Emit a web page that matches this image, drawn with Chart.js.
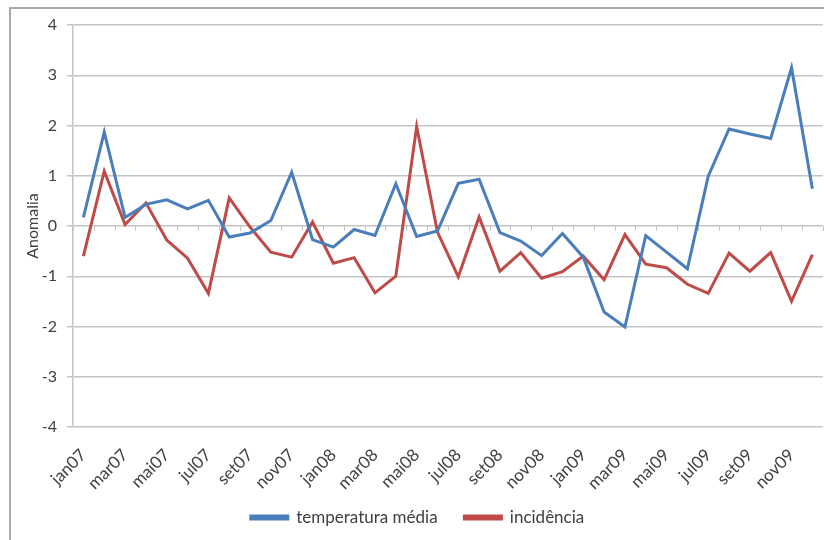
<!DOCTYPE html>
<html>
<head>
<meta charset="utf-8">
<script src="https://cdn.jsdelivr.net/npm/chart.js@4/dist/chart.umd.min.js"></script>
<style>
  body { margin: 0; background: #fff; }
  #wrap { position: relative; width: 824px; height: 540px; overflow: hidden; }
  #frame { position: absolute; left: 9px; top: 7px; width: 830px; height: 550px; border-left: 2px solid #a9a9a9; border-top: 2px solid #a9a9a9; }
  canvas { position: absolute; left: 0; top: 0; }
</style>
</head>
<body>
<div id="wrap">
  <div id="frame"></div>
  <canvas id="chart" width="824" height="540"></canvas>
</div>
<script>
'use strict'

const months = [
  'jan07', 'fev07', 'mar07', 'abr07', 'mai07', 'jun07', 'jul07', 'ago07', 'set07', 'out07', 'nov07', 'dez07',
  'jan08', 'fev08', 'mar08', 'abr08', 'mai08', 'jun08', 'jul08', 'ago08', 'set08', 'out08', 'nov08', 'dez08',
  'jan09', 'fev09', 'mar09', 'abr09', 'mai09', 'jun09', 'jul09', 'ago09', 'set09', 'out09', 'nov09', 'dez09'
]
const temperatura = [
  0.17, 1.87, 0.17, 0.43, 0.52, 0.34, 0.51, -0.22, -0.14, 0.11, 1.07, -0.27,
  -0.42, -0.07, -0.19, 0.84, -0.21, -0.10, 0.85, 0.93, -0.13, -0.30, -0.59, -0.15,
  -0.62, -1.71, -2.01, -0.19, -0.52, -0.85, 0.99, 1.93, 1.83, 1.74, 3.15, 0.74
]
const incidencia = [
  -0.60, 1.09, 0.03, 0.46, -0.28, -0.64, -1.34, 0.56, -0.02, -0.52, -0.62, 0.08,
  -0.74, -0.63, -1.33, -1.00, 1.98, -0.12, -1.01, 0.18, -0.90, -0.53, -1.04, -0.91,
  -0.60, -1.07, -0.17, -0.76, -0.83, -1.16, -1.34, -0.54, -0.90, -0.53, -1.50, -0.57
]
const yTicks = [-4, -3, -2, -1, 0, 1, 2, 3, 4]

const blue = '#4a7ebb'
const red = '#be4b48'
const gridColor = '#c4c4c4'
const textColor = '#404040'
const font = 'Lato, "Open Sans", sans-serif'

// small tick marks along the zero line, like the excel category axis
const zeroTicks = {
  id: 'zeroTicks',
  beforeDatasetsDraw (chart) {
    const x = chart.scales.x
    const y = chart.scales.y
    const ctx = chart.ctx
    const step = x.getPixelForValue(1) - x.getPixelForValue(0)
    const y0 = y.getPixelForValue(0)
    ctx.save()
    ctx.strokeStyle = gridColor
    ctx.lineWidth = 1
    ctx.beginPath()
    for (let i = 0; i <= months.length; i++) {
      const px = Math.round(x.getPixelForValue(0) - step / 2 + i * step) + 0.5
      ctx.moveTo(px, y0)
      ctx.lineTo(px, y0 + 5)
    }
    ctx.stroke()
    ctx.restore()
  }
}

new Chart(document.getElementById('chart'), {
  type: 'line',
  data: {
    labels: months,
    datasets: [{
      label: 'temperatura média',
      data: temperatura,
      borderColor: blue,
      backgroundColor: blue,
      borderWidth: 3,
      pointRadius: 0,
      tension: 0
    }, {
      label: 'incidência',
      data: incidencia,
      borderColor: red,
      backgroundColor: red,
      borderWidth: 3,
      pointRadius: 0,
      tension: 0
    }]
  },
  options: {
    responsive: false,
    animation: false,
    layout: { padding: { left: 12, top: 25, right: 1, bottom: 4 } },
    plugins: {
      tooltip: { enabled: false },
      legend: {
        position: 'bottom',
        labels: {
          boxWidth: 37,
          boxHeight: 3,
          padding: 14,
          color: textColor,
          font: { family: font, size: 17 },
          // wider gap between the two entries without a tall legend box
          generateLabels: (chart) => Chart.defaults.plugins.legend.labels.generateLabels(chart)
            .map((item, i) => ({ ...item, text: i === 0 ? item.text + '\u2003' : item.text }))
        }
      }
    },
    scales: {
      x: {
        offset: true,
        grid: { display: false, drawTicks: false },
        border: { display: false },
        ticks: {
          autoSkip: false,
          maxRotation: 45,
          minRotation: 45,
          padding: 18,
          color: textColor,
          font: { family: font, size: 17 },
          callback: (value, index) => index % 2 === 0 ? months[index] : null
        },
        afterFit: (scale) => { scale.height = 68 }
      },
      y: {
        min: -4,
        max: 4,
        afterBuildTicks: (scale) => { scale.ticks = yTicks.map(v => ({ value: v })) },
        grid: { color: gridColor, lineWidth: 1.5, tickLength: 6 },
        border: { color: gridColor, width: 1.5 },
        ticks: {
          color: textColor,
          padding: 10,
          font: { family: font, size: 16 }
        },
        title: {
          display: true,
          text: 'Anomalia',
          color: textColor,
          padding: { top: 11, bottom: 0 },
          font: { family: font, size: 16 }
        },
        afterFit: (scale) => { scale.width = 61 }
      }
    }
  },
  plugins: [zeroTicks]
})
</script>
</body>
</html>
